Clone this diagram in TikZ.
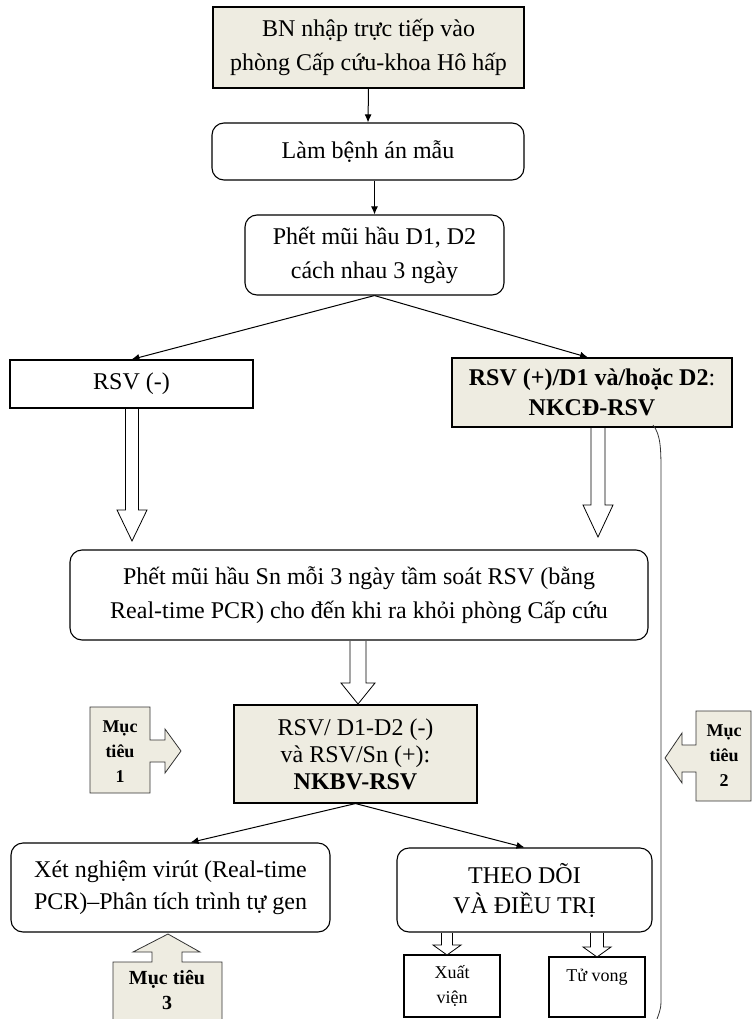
\documentclass[tikz,border=0pt]{standalone}
\usepackage{fontspec}
\setmainfont{Liberation Serif}
\usetikzlibrary{arrows.meta}
\definecolor{tanfill}{HTML}{EEECE1}
\newcommand\harrow[6]{\draw[hollow] (#1-#4,#2) -- (#1-#4,#6) -- (#1-#5,#6) -- (#1,#3) -- (#1+#5,#6) -- (#1+#4,#6) -- (#1+#4,#2);}
\begin{document}
\begin{tikzpicture}[x=1pt,y=-1pt,
 box/.style={draw=black, line width=1.1pt, inner sep=0pt, align=center, font=\fontsize{24}{34}\selectfont},
 rbox/.style={box, rounded corners=12pt},
 tanbox/.style={box, fill=tanfill},
 arr/.style={-{Latex[length=8pt,width=7pt]}, line width=1pt},
 hollow/.style={draw=black, fill=white, line width=0.8pt, line join=miter},
 callout/.style={draw=black!80, fill=tanfill, line width=0.8pt},
 ctext/.style={font=\bfseries\fontsize{18}{25}\selectfont, align=center, inner sep=0pt}]
\fill[white] (0,0) rectangle (752,1019);
\useasboundingbox (0,0) rectangle (752,1019);

\node[tanbox, minimum width=311pt, minimum height=81pt] (n1) at (368.5,47.5) {BN nhập trực tiếp vào\\phòng Cấp cứu-khoa Hô hấp};
\node[rbox, minimum width=312pt, minimum height=57pt] (n2) at (368,151.5) {Làm bệnh án mẫu};
\node[rbox, minimum width=259pt, minimum height=80pt] (n3) at (374.5,255) {Phết mũi hầu D1, D2\\cách nhau 3 ngày};
\node[box, minimum width=243pt, minimum height=48pt] (n4) at (131.5,384) {RSV (-)};
\node[tanbox, minimum width=280pt, minimum height=69pt, font=\fontsize{24}{30}\selectfont] (n5) at (592,392.5) {\textbf{RSV (+)/D1 và/hoặc D2}:\\\textbf{NKCĐ-RSV}};
\node[rbox, minimum width=578pt, minimum height=90pt] (n6) at (359,595) {Phết mũi hầu Sn mỗi 3 ngày tầm soát RSV (bằng\\Real-time PCR) cho đến khi ra khỏi phòng Cấp cứu};
\node[tanbox, minimum width=243pt, minimum height=98pt, font=\fontsize{24}{27}\selectfont] (n7) at (355.5,754) {RSV/ D1-D2 (-)\\và RSV/Sn (+):\\\textbf{NKBV-RSV}};
\node[rbox, minimum width=319pt, minimum height=89pt, font=\fontsize{24}{32}\selectfont] (n8) at (170.5,887.5) {Xét nghiệm virút (Real-time\\PCR)–Phân tích trình tự gen};
\node[rbox, minimum width=255pt, minimum height=84pt, font=\fontsize{24}{30}\selectfont] (n9) at (524.5,890) {THEO DÕI\\VÀ ĐIỀU TRỊ};
\node[box, minimum width=96pt, minimum height=62pt, font=\fontsize{18}{25}\selectfont] (n10) at (452,986) {Xuất\\viện};
\node[box, minimum width=96pt, minimum height=60pt] (n11) at (597,987) {};
\node[font=\fontsize{18}{25}\selectfont, inner sep=0pt] (t11) at (597,977) {Tử vong};

% thin arrows
\draw[arr] (n1.south) -- (n2.north);
\draw[arr] (n3.north |- n2.south) -- (n3.north);
\draw[arr] (n3.south) -- (n4.north);
\draw[arr] (n3.south) -- ([xshift=-4pt]n5.north);
\draw[arr] (n7.south) -- ([xshift=20pt]n8.north);
\draw[arr] (n7.south) -- (n9.north);

% hollow block arrows
\harrow{132}{409}{541}{6.5}{15}{510}
\harrow{598}{428}{537}{7}{15}{505}
\harrow{358}{641}{704}{8}{17}{683}
\harrow{447}{933}{955}{5.5}{14}{945}
\harrow{597}{933}{957}{6.5}{14}{947}

% callouts
\draw[callout] (90,707) -- (150,707) -- (150,740) -- (165,740) -- (165,729) -- (181,751) -- (165,773) -- (165,762) -- (150,762) -- (150,793) -- (90,793) -- cycle;
\node[ctext] (c1) at (120,752) {Mục\\tiêu\\1};
\draw[callout] (751,711) -- (696,711) -- (696,745) -- (682,745) -- (682,733) -- (665,758) -- (682,783) -- (682,772) -- (696,772) -- (696,801) -- (751,801) -- cycle;
\node[ctext] (c2) at (724,756) {Mục\\tiêu\\2};
\draw[callout] (113,1021) -- (113,962) -- (152,962) -- (152,952) -- (133,952) -- (168,934) -- (200,952) -- (182,952) -- (182,962) -- (222,962) -- (222,1021);
\node[ctext, font=\bfseries\fontsize{20}{25}\selectfont] (c3) at (167,990) {Mục tiêu\\3};

% bracket
\draw[line width=0.8pt, black!80] (653,425) .. controls (661,435) and (661,450) .. (661,475) -- (661,995) .. controls (661,1008) .. (657,1019);
\end{tikzpicture}
\end{document}
